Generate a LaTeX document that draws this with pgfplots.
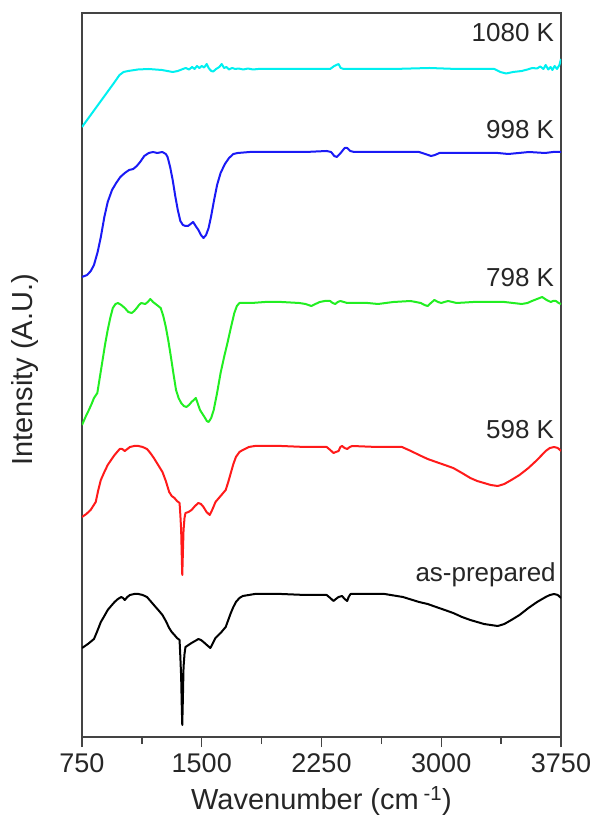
\documentclass[border=0pt]{standalone}
\usepackage{fontspec}
\setmainfont{Liberation Sans}
\usepackage{pgfplots}
\pgfplotsset{compat=1.18}

\definecolor{axisgray}{HTML}{444444}
\definecolor{cyanline}{HTML}{00F0F0}
\definecolor{blueline}{HTML}{1A1AF5}
\definecolor{greenline}{HTML}{22EE22}
\definecolor{redline}{HTML}{FF1A1A}

\begin{document}
\begin{tikzpicture}
\useasboundingbox (-82pt,-103pt) rectangle (513pt,737pt);
\begin{axis}[
  scale only axis,
  width=479pt, height=724pt,
  xmin=750, xmax=3750, ymin=0, ymax=724,
  axis line style={axisgray, line width=1.6pt},
  xtick={750,1500,2250,3000,3750},
  minor xtick={1125,1875,2625,3375},
  xtick pos=lower, tick align=outside,
  major tick length=10pt, minor tick length=7pt,
  every tick/.style={axisgray, line width=1.4pt},
  ytick=\empty,
  /pgf/number format/assume math mode=true,
  /pgf/number format/1000 sep={},
  tick label style={font=\fontsize{27}{30}\selectfont, text=black!85},
  xticklabel style={yshift=-3pt},
  xlabel={Wavenumber (cm\,\textsuperscript{-1})},
  ylabel={Intensity (A.U.)},
  label style={font=\fontsize{29}{32}\selectfont, text=black!85},
  x label style={at={(axis description cs:0.5,-0.088)}, anchor=center},
  y label style={at={(axis description cs:-0.119,0.507)}, anchor=center},
  every axis plot/.append style={line width=2pt, line join=round},
  clip=true,
]
% 1080 K
\addplot[cyanline] coordinates {
(750,610) (800,621) (850,632) (900,643) (950,654) (985,662) (1010,665) (1039,666)
(1100,667.5) (1168,668) (1250,667) (1318,665) (1350,666) (1382,668) (1400,669)
(1420,667.5) (1440,670) (1455,668) (1470,671) (1485,669) (1500,671) (1515,669.5)
(1531,673) (1545,668.5) (1560,666) (1572,665.5) (1590,668) (1610,670) (1625,673)
(1640,669) (1655,670) (1670,667.5) (1690,669) (1710,668) (1730,668.5) (1760,667.5)
(1790,668.5) (1820,667.5) (1854,668) (1950,668) (2100,668) (2250,668) (2304,668)
(2330,671) (2357,673) (2370,669) (2389,668) (2500,668) (2700,668) (2925,669)
(3100,668) (3332,668) (3370,665) (3407,663.5) (3450,665) (3504,666) (3540,667.5)
(3570,669) (3600,668.5) (3620,670.5) (3640,668) (3654,672) (3670,667.5) (3685,670)
(3696,667) (3710,671) (3725,668) (3740,672) (3750,678)
};
% 998 K
\addplot[blueline] coordinates {
(750,460) (782,462) (805,466) (825,472) (848,485) (868,500) (890,520) (911,535)
(938,547) (964,554) (990,560) (1018,564) (1045,567) (1071,568) (1093,571)
(1114,575) (1140,581) (1168,584) (1195,585) (1221,584) (1253,585) (1275,583)
(1286,580) (1302,570) (1318,557) (1334,541) (1350,527) (1366,516) (1382,512)
(1398,511) (1414,511) (1430,513) (1446,515) (1462,511) (1479,507) (1495,502)
(1511,499) (1527,502) (1543,509) (1559,521) (1575,535) (1596,552) (1618,564)
(1645,573) (1671,579) (1698,583) (1725,584) (1800,585) (2000,585) (2150,585)
(2282,586) (2310,585) (2330,581) (2346,580) (2370,584) (2395,589) (2411,589)
(2430,586) (2454,585) (2600,585) (2861,585) (2900,583) (2936,581) (2960,582)
(2989,584) (3150,584) (3354,584) (3420,583) (3550,585) (3650,584) (3700,585)
(3750,585)
};
% 798 K
\addplot[greenline] coordinates {
(750,312) (772,320) (793,327) (810,333) (825,339) (846,344) (862,360) (879,377)
(895,393) (911,407) (927,419) (943,429) (960,433) (975,434) (996,432) (1018,429)
(1040,425) (1061,424) (1077,426) (1093,429) (1107,432) (1121,434) (1146,433)
(1162,435) (1178,438) (1195,435) (1211,433) (1227,431) (1243,429) (1259,421)
(1275,410) (1291,396) (1307,380) (1323,363) (1339,347) (1355,339) (1371,334)
(1388,331) (1404,330) (1420,332) (1436,335) (1450,337) (1463,339) (1476,333)
(1489,327) (1505,323) (1521,319) (1532,316) (1543,315) (1559,319) (1575,327)
(1596,344) (1618,364) (1640,380) (1661,394) (1682,409) (1704,424) (1720,431)
(1736,434) (1811,434) (1896,435) (2000,435) (2111,434) (2150,433) (2186,431)
(2212,433) (2239,435) (2270,436) (2304,436) (2320,434) (2336,433) (2352,435)
(2368,436) (2390,435) (2411,434) (2539,434) (2604,433) (2700,435) (2807,436)
(2840,435) (2872,434) (2895,432) (2915,431) (2935,434) (2957,437) (2980,435)
(3000,434) (3020,435) (3043,436) (3070,435) (3096,434) (3200,435) (3300,435)
(3396,435) (3450,434) (3504,433) (3540,434) (3568,436) (3600,438) (3632,440)
(3660,437) (3686,435) (3700,436) (3718,436) (3735,434) (3750,433)
};
% 598 K
\addplot[redline] coordinates {
(750,220) (777,223) (804,227) (820,231) (836,235) (852,247) (868,257) (890,265)
(911,272) (932,277) (954,282) (970,285) (986,288) (1002,288) (1018,286)
(1034,288) (1050,290) (1077,291) (1104,291) (1130,290) (1157,288) (1178,284)
(1200,279) (1227,272) (1254,265) (1275,256) (1296,245) (1312,241) (1329,239)
(1345,236) (1361,234) (1366,222) (1371,207) (1375,180) (1378,162) (1382,185)
(1386,207) (1392,219) (1398,224) (1417,225) (1436,227) (1458,231) (1479,234)
(1495,233) (1511,230) (1530,225) (1550,222) (1568,228) (1586,235) (1618,241)
(1650,247) (1666,255) (1682,264) (1698,273) (1714,280) (1736,285) (1757,287)
(1795,290) (1832,291) (2000,291) (2150,290) (2282,290) (2305,287) (2325,284)
(2340,285) (2357,286) (2368,290) (2379,291) (2395,289) (2411,288) (2427,290)
(2443,291) (2600,290) (2754,290) (2810,286) (2861,282) (2915,278) (2968,275)
(3022,272) (3075,269) (3130,264) (3182,259) (3225,256) (3268,254) (3310,252)
(3354,251) (3395,253) (3439,257) (3490,262) (3546,269) (3600,277) (3654,286)
(3680,289) (3707,290) (3730,289) (3750,286)
};
% as-prepared
\addplot[black] coordinates {
(750,89) (787,93) (825,98) (846,106) (868,115) (890,121) (911,127) (932,131)
(954,135) (975,138) (996,140) (1007,139) (1018,137) (1034,140) (1050,142)
(1077,143) (1104,143) (1130,142) (1157,140) (1184,135) (1211,130) (1233,126)
(1254,122) (1275,116) (1296,109) (1312,105) (1329,102) (1345,99) (1361,97)
(1366,80) (1371,60) (1375,30) (1378,12) (1382,40) (1386,70) (1392,83) (1398,90)
(1417,92) (1436,94) (1458,96) (1479,98) (1495,97) (1511,95) (1532,92) (1554,89)
(1570,94) (1586,99) (1618,104) (1650,110) (1666,117) (1682,124) (1698,130)
(1714,135) (1736,139) (1757,141) (1795,142) (1832,143) (2000,143) (2150,142)
(2282,142) (2305,139) (2325,136) (2340,138) (2357,140) (2379,141) (2395,138)
(2411,136) (2420,140) (2432,143) (2646,143) (2760,140) (2861,135) (2915,133)
(2968,130) (3022,127) (3075,124) (3130,120) (3182,117) (3225,115) (3268,113)
(3310,112) (3354,111) (3395,113) (3439,117) (3490,122) (3546,129) (3600,135)
(3654,140) (3680,142) (3707,143) (3730,142) (3750,139)
};
% sample labels
\begin{scope}[every node/.style={anchor=east, font=\fontsize{26}{28}\selectfont, text=black!85, inner sep=0pt}]
\node at (axis cs:3708,704) {1080 K};
\node at (axis cs:3708,607) {998 K};
\node at (axis cs:3708,459) {798 K};
\node at (axis cs:3708,307) {598 K};
\node at (axis cs:3718,162) {as-prepared};
\end{scope}
\end{axis}
\end{tikzpicture}
\end{document}
